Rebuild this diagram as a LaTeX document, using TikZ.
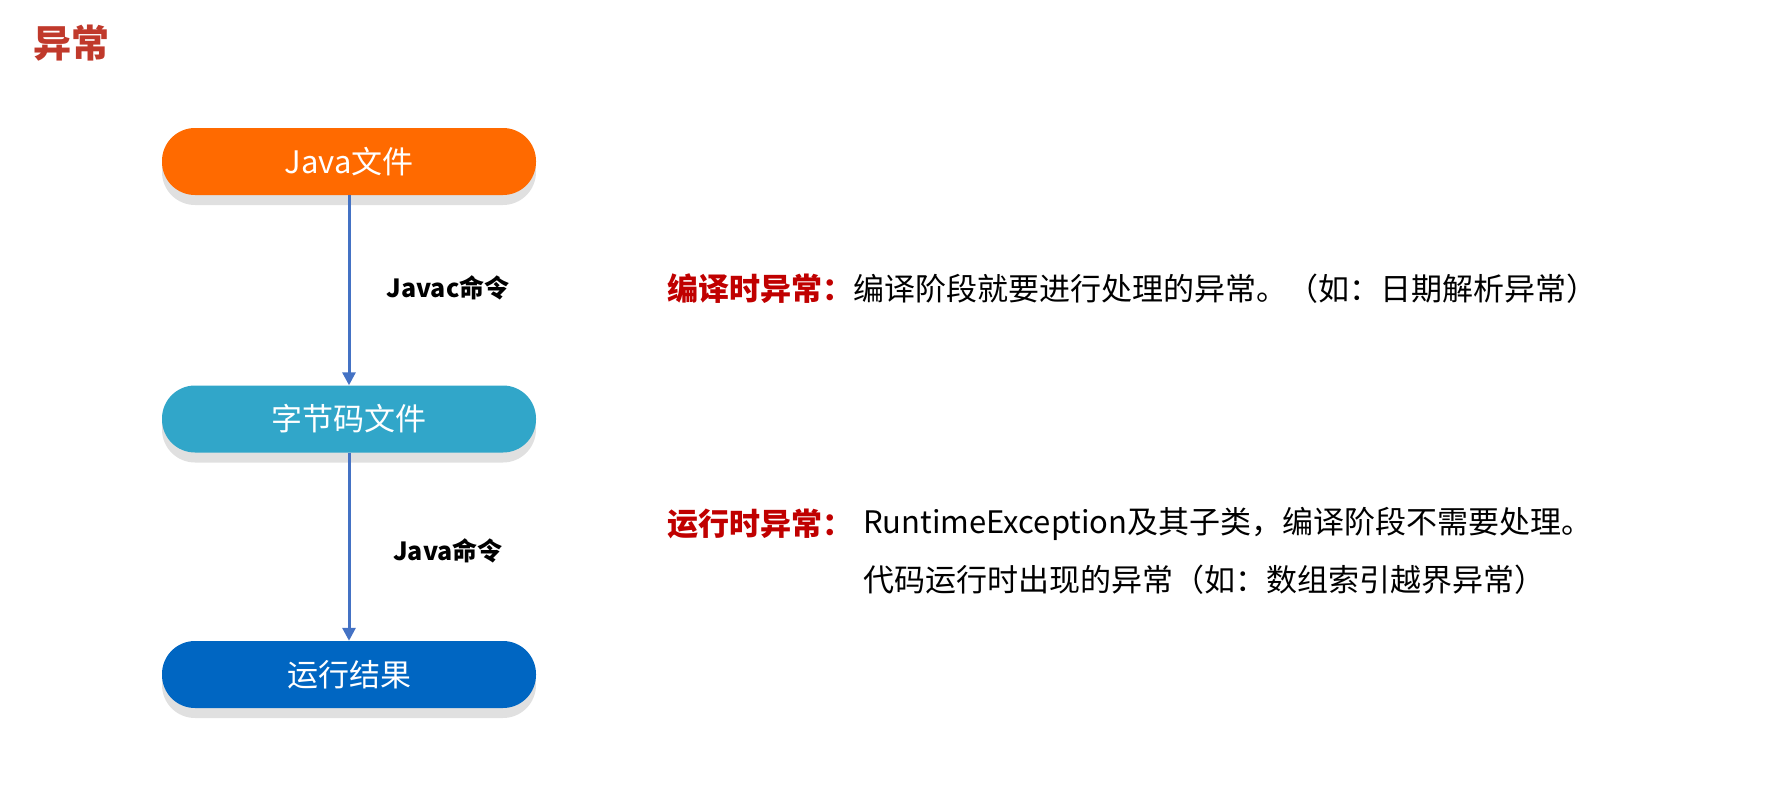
\documentclass[tikz,border=0pt]{standalone}
\usepackage{fontspec}
\newfontfamily\cjk{Noto Sans CJK SC}
\usetikzlibrary{arrows.meta,positioning,shadows}

\definecolor{javaorange}{HTML}{FF6A00}
\definecolor{bytecodeteal}{HTML}{31A6C9}
\definecolor{resultblue}{HTML}{0066C2}
\definecolor{flowarrow}{HTML}{4472C4}
\definecolor{titlered}{HTML}{C0392B}
\definecolor{labelred}{HTML}{C00000}

\tikzset{
  flowbox/.style={rounded corners=33pt, minimum width=374pt, minimum height=67pt,
    inner sep=0pt, text=white, font=\cjk\fontsize{31}{36}\selectfont,
    general shadow={shadow yshift=-10pt, fill=black!12}},
  flowline/.style={draw=flowarrow, line width=3pt, -{Triangle[length=13pt,width=13pt]}},
  cmdlabel/.style={font=\cjk\bfseries\fontsize{25}{30}\selectfont},
  desctext/.style={anchor=west, inner sep=0pt, font=\cjk\fontsize{31}{36}\selectfont},
}

\begin{document}
\begin{tikzpicture}[x=1pt,y=-1pt]
    \useasboundingbox (0,0) rectangle (1781,798);

    % Title
    \node[text=titlered, font=\cjk\bfseries\fontsize{38}{44}\selectfont] (title) at (71,43) {异常};

    % Flow
    \node[flowbox, fill=javaorange] (java) at (349,161.5) {Java文件};
    \node[flowbox, fill=bytecodeteal] (bytecode) at (349,419) {字节码文件};
    \node[flowbox, fill=resultblue] (result) at (349,674.5) {运行结果};

    \draw[flowline] (java) -- (bytecode);
    \draw[flowline] (bytecode) -- (result);

    % Commands
    \node[cmdlabel] (javac) at (448,288) {Javac命令};
    \node[cmdlabel] (javarun) at (448,551) {Java命令};

    % Exceptions
    \node[desctext] (checked) at (667,289) {\textcolor{labelred}{\bfseries 编译时异常：}编译阶段就要进行处理的异常。（如：日期解析异常）};
    \node[desctext] (runtime) at (667,524) {\textcolor{labelred}{\bfseries 运行时异常：}};
    \node[desctext] (runtimeA) at (863,524) {RuntimeException及其子类，编译阶段不需要处理。};
    \node[desctext] (runtimeB) at (863,580) {代码运行时出现的异常（如：数组索引越界异常）};
\end{tikzpicture}
\end{document}
